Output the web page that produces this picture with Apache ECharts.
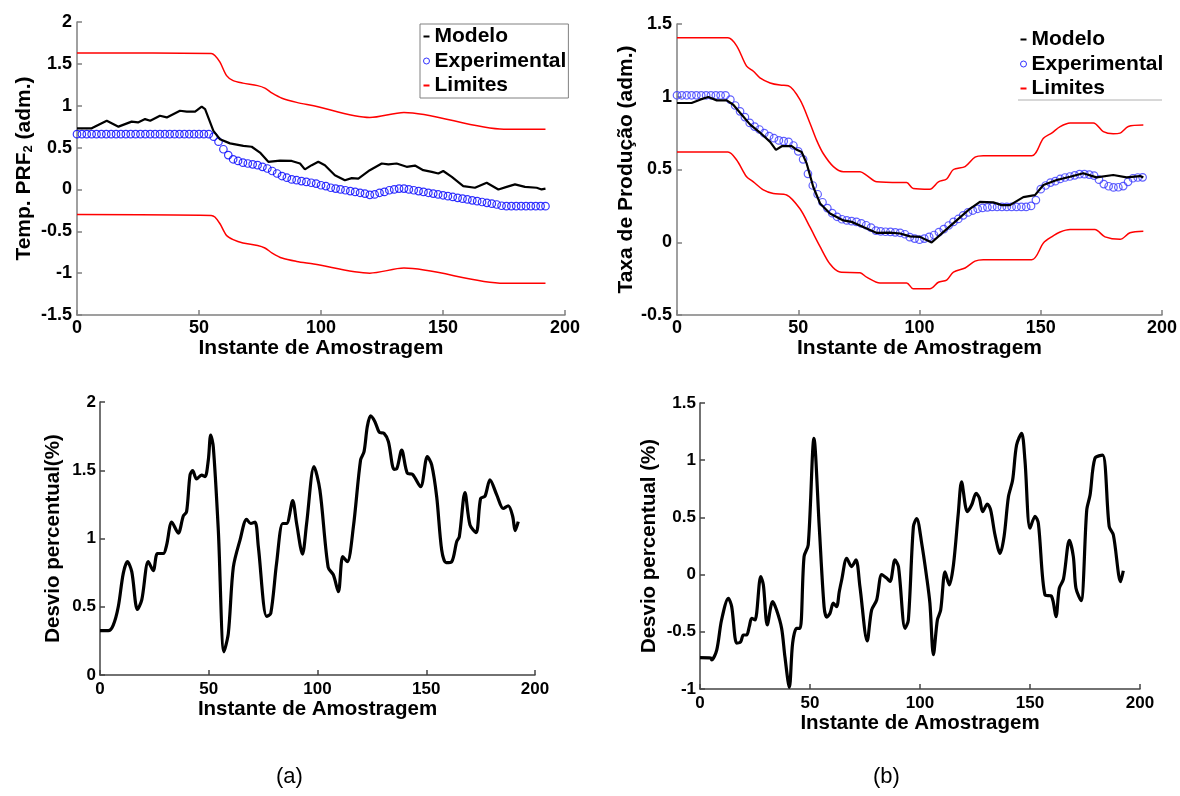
<!DOCTYPE html>
<html><head><meta charset="utf-8">
<script src="https://cdn.jsdelivr.net/npm/echarts@6/dist/echarts.min.js"></script>
<style>html,body{margin:0;padding:0;background:#fff}#c{width:1180px;height:796px}</style>
</head><body><div id="c"></div>
<script>
// ---------- DATA ----------
const xTickValues = [0, 50, 100, 150, 200];
const legendNames = ['Modelo', 'Experimental', 'Limites'];
const panelLabels = ['(a)', '(b)'];

// Panel (a) top: Temp. PRF2
const aModelo = [[0,0.73],[6,0.73],[12.2,0.82],[17,0.75],[22.4,0.81],[25,0.80],[27.9,0.84],[30,0.82],[34,0.88],[36.8,0.86],[42.2,0.94],[45,0.93],[48.4,0.93],[51.1,0.99],[52.5,0.96],[55.9,0.70],[58.6,0.60],[62.7,0.55],[68.2,0.52],[71.6,0.51],[75,0.44],[78.4,0.33],[83.2,0.345],[88,0.34],[91.4,0.31],[93.4,0.24],[96.2,0.29],[98.9,0.33],[101.6,0.29],[105.7,0.17],[109.8,0.11],[112.6,0.135],[115.3,0.13],[120,0.23],[124.9,0.31],[127.6,0.30],[131,0.31],[135.1,0.27],[138.5,0.285],[141.9,0.23],[145.4,0.21],[148.1,0.19],[150.1,0.22],[153.6,0.15],[158.3,0.04],[163.1,0.02],[167.9,0.08],[172.7,0.0],[176.1,0.03],[179.5,0.06],[183.6,0.03],[188.4,0.02],[190.4,0.0],[192,0.01]];
// experimental samples every 2 instants (0,2,...,192)
const aExperimental = [0.66,0.66,0.66,0.66,0.66,0.66,0.66,0.66,0.66,0.66,0.66,0.66,0.66,0.66,0.66,0.66,0.66,0.66,0.66,0.66,0.66,0.66,0.66,0.66,0.66,0.66,0.66,0.66,
  0.63,0.57,0.48,0.41,0.36,0.34,0.32,0.31,0.30,0.29,0.27,0.25,0.22,0.19,0.16,0.14,0.12,0.11,0.10,0.09,0.08,0.07,0.05,0.04,0.02,0.01,0.0,-0.01,-0.02,-0.03,-0.04,-0.05,-0.065,-0.06,-0.04,-0.03,-0.01,0.0,0.01,0.01,0.0,-0.01,-0.02,-0.03,-0.04,-0.05,-0.06,-0.07,-0.08,-0.09,-0.10,-0.11,-0.12,-0.13,-0.14,-0.15,-0.16,-0.17,-0.18,-0.195,
  -0.20,-0.20,-0.20,-0.20,-0.20,-0.20,-0.20,-0.20,-0.20];
const aUpper = [[0,1.63],[55,1.625],[56.5,1.6],[58.6,1.52],[61.3,1.36],[64,1.30],[68,1.27],[74,1.24],[77,1.21],[80,1.15],[84,1.09],[90,1.04],[97,1.0],[120,0.86],[134,0.92],[175,0.72],[192,0.72]];
const aLower = [[0,-0.30],[55,-0.31],[56.5,-0.33],[58.6,-0.41],[61.3,-0.55],[64,-0.60],[68,-0.64],[74,-0.67],[77,-0.70],[80,-0.76],[84,-0.82],[90,-0.86],[97,-0.89],[120,-1.0],[134,-0.94],[175,-1.12],[192,-1.12]];

// Panel (b) top: Taxa de Producao
const bModelo = [[0,0.957],[6,0.957],[9.5,0.98],[12.9,0.998],[16.4,0.975],[20.5,0.975],[23.2,0.945],[26,0.89],[30.1,0.81],[34.2,0.754],[38.4,0.69],[40.8,0.635],[43.2,0.66],[47.3,0.66],[49.4,0.635],[51.4,0.62],[53.5,0.54],[56.2,0.38],[59,0.267],[63.1,0.198],[68.6,0.15],[72,0.14],[76.8,0.105],[82.4,0.064],[87.8,0.066],[92,0.06],[96.1,0.04],[100.2,0.037],[105,-0.002],[109.8,0.07],[115.3,0.15],[120.8,0.23],[124.9,0.278],[130.4,0.274],[133.9,0.255],[137.3,0.255],[142.8,0.31],[147.6,0.324],[151.1,0.393],[156.6,0.428],[162.1,0.45],[167.5,0.474],[173,0.446],[179.9,0.462],[185.4,0.446],[190.9,0.455],[192.3,0.446]];
const bExperimental = [1.01,1.01,1.01,1.01,1.01,1.01,1.01,1.01,1.01,1.01,1.01,
  0.98,0.94,0.90,0.86,0.82,0.795,0.775,0.75,0.73,0.715,0.70,0.695,0.69,0.665,0.625,0.57,0.47,0.39,0.33,0.275,0.235,0.20,0.175,0.158,0.15,0.145,0.14,0.13,0.117,0.10,0.08,0.075,0.072,0.071,0.068,0.065,0.055,0.035,0.025,0.018,0.025,0.037,0.05,0.07,0.09,0.115,0.14,0.16,0.185,0.205,0.218,0.23,0.236,0.24,0.243,
  0.243,0.243,0.243,0.243,0.243,0.243,0.243,
  0.25,0.29,0.365,0.39,0.41,0.42,0.435,0.445,0.452,0.46,0.468,0.468,0.465,0.458,0.43,0.40,0.385,0.377,0.378,0.386,0.415,0.44,0.445,0.446];
const bUpper = [[0,1.405],[21,1.405],[24.6,1.35],[28.7,1.21],[31.5,1.175],[34.2,1.13],[38.4,1.095],[42.5,1.08],[45.9,1.076],[50.7,0.98],[54.8,0.82],[57.6,0.70],[60.3,0.61],[64.5,0.52],[68.6,0.485],[75.5,0.485],[78.2,0.46],[82.4,0.415],[92,0.41],[94.7,0.41],[97.4,0.37],[104.3,0.365],[107.8,0.415],[111.2,0.435],[114,0.50],[118.8,0.52],[122.9,0.585],[126.3,0.595],[146.3,0.595],[151.1,0.715],[154.5,0.75],[158,0.795],[162.1,0.82],[171.7,0.82],[175.8,0.76],[179.9,0.745],[182.7,0.75],[186.1,0.795],[192.3,0.805]];
const bLower = [[0,0.62],[21,0.62],[24.6,0.565],[28.7,0.45],[31.5,0.415],[35.6,0.36],[39.7,0.335],[45.2,0.325],[50.7,0.23],[54.8,0.105],[59,-0.03],[63.1,-0.15],[67.2,-0.205],[75.5,-0.21],[78.2,-0.24],[83.7,-0.28],[94.7,-0.28],[97.4,-0.32],[104.3,-0.32],[107.8,-0.275],[111.2,-0.26],[114,-0.205],[118.8,-0.177],[122.9,-0.13],[126.3,-0.12],[146.3,-0.12],[151.1,-0.005],[154.5,0.037],[158,0.07],[162.1,0.087],[172.3,0.087],[176.5,0.037],[182.7,0.02],[186.8,0.065],[192.3,0.076]];

// Bottom: Desvio percentual
const aDesvio = [[0,0.325],[3.8,0.325],[6.1,0.366],[8.4,0.50],[10.7,0.745],[12.6,0.83],[14.6,0.757],[17.2,0.48],[19.2,0.55],[22.2,0.83],[24.5,0.765],[26.4,0.89],[29.1,0.89],[30.6,0.95],[33,1.12],[36,1.04],[38.3,1.165],[39.8,1.196],[41.4,1.465],[42.6,1.497],[44.4,1.436],[46.7,1.465],[48.3,1.453],[49.8,1.575],[50.9,1.758],[52.1,1.67],[54.4,1.06],[57,0.17],[59,0.305],[61.3,0.79],[64.4,0.99],[67.4,1.14],[69.3,1.11],[71.3,1.12],[72.8,0.94],[76.6,0.43],[78.5,0.45],[81.2,0.82],[84,1.11],[85.8,1.11],[88.6,1.277],[90.4,1.11],[93.1,0.886],[95,1.11],[98.4,1.526],[101.1,1.355],[104.9,0.79],[107.3,0.733],[109.6,0.61],[111.6,0.867],[113.7,0.83],[116.5,1.086],[119.8,1.575],[121.4,1.636],[122.9,1.82],[124.4,1.898],[126.4,1.856],[128.4,1.778],[130.6,1.77],[132.6,1.71],[135.2,1.507],[136.4,1.51],[138.7,1.648],[141.3,1.478],[143.7,1.47],[147.4,1.38],[150.5,1.6],[152.5,1.54],[154.8,1.306],[157.1,0.916],[159.1,0.823],[161.7,0.83],[164,0.977],[165.2,1.013],[167.8,1.336],[170.1,1.1],[172.9,1.043],[175,1.294],[177,1.31],[179.3,1.43],[182.4,1.32],[185.4,1.22],[187.7,1.24],[189.7,1.165],[190.9,1.057],[192.3,1.123]];
const bDesvio = [[0,-0.726],[5,-0.73],[5.3,-0.746],[7.6,-0.66],[9.8,-0.397],[12.9,-0.207],[14.4,-0.28],[16.7,-0.60],[18.5,-0.587],[19.7,-0.528],[21.2,-0.528],[22.4,-0.455],[23.5,-0.382],[25,-0.397],[27.6,-0.018],[28.8,-0.09],[30.6,-0.44],[33,-0.237],[34.8,-0.31],[37.1,-0.47],[38.6,-0.718],[40.6,-0.985],[42.1,-0.60],[43.9,-0.47],[45.5,-0.47],[47.3,0.157],[49.2,0.26],[51.8,1.19],[54.2,0.42],[56.4,-0.28],[57.6,-0.373],[59.1,-0.338],[60.6,-0.25],[62.1,-0.28],[63.3,-0.15],[64.4,-0.047],[66.7,0.142],[68.9,0.07],[70.9,0.128],[72.7,-0.106],[76,-0.58],[78,-0.31],[80.3,-0.222],[82.6,0.0],[84.8,-0.03],[86.4,-0.06],[88.6,0.128],[90.2,0.07],[93.2,-0.47],[94.7,-0.397],[97,0.42],[98.5,0.49],[100.8,0.27],[103,-0.018],[104.5,-0.25],[106.1,-0.70],[107.9,-0.397],[109.4,-0.31],[111.4,0.025],[113.3,-0.09],[115.2,0.084],[117.4,0.536],[118.9,0.81],[121.5,0.55],[123.5,0.61],[125.5,0.71],[127,0.67],[128.5,0.55],[130.6,0.617],[132.1,0.565],[134.1,0.346],[136.4,0.186],[138.2,0.33],[140.2,0.68],[142.1,0.826],[143.9,1.133],[146.2,1.235],[147.7,1.0],[150,0.405],[152.3,0.51],[153.8,0.448],[156.8,-0.178],[159.8,-0.19],[161.8,-0.368],[163.3,-0.12],[165.2,-0.04],[167.9,0.30],[169.7,0.157],[170.9,-0.12],[173.2,-0.228],[175.8,0.565],[177.3,0.695],[179.5,1.016],[183,1.045],[186,0.42],[187.9,0.346],[191.2,-0.062],[192.4,0.034]];

// ---------- CHART ----------
const FF = '"Liberation Sans", Arial, sans-serif';
const SAMPLE_STEP = 2;
function samples(vals) { return vals.map((v, i) => [i * SAMPLE_STEP, v]); }

function xAxisCfg(gi, o) {
  return {
    type: 'value', gridIndex: gi, min: xTickValues[0], max: xTickValues[xTickValues.length - 1], interval: 50,
    name: 'Instante de Amostragem', nameLocation: 'middle', nameGap: o.nameGap,
    nameTextStyle: { fontFamily: FF, fontSize: o.nameSize, fontWeight: 'bold', color: '#000' },
    axisLine: { onZero: false, lineStyle: { color: o.axisColor, width: 1.5 } },
    axisTick: { inside: true, length: 5, lineStyle: { color: o.axisColor, width: 1.5 } },
    axisLabel: { fontFamily: FF, fontSize: o.labelSize, fontWeight: 'bold', color: '#000', margin: o.margin },
    splitLine: { show: false }
  };
}
function yAxisCfg(gi, o) {
  return {
    type: 'value', gridIndex: gi, min: o.min, max: o.max, interval: 0.5,
    name: o.name, nameLocation: 'middle', nameGap: o.nameGap, nameRotate: 90,
    nameTextStyle: { fontFamily: FF, fontSize: o.nameSize, fontWeight: 'bold', color: '#000',
      rich: { sub: { fontFamily: FF, fontSize: 13, fontWeight: 'bold', color: '#000', verticalAlign: 'bottom', padding: [9, 0, 0, 0] } } },
    axisLine: { onZero: false, lineStyle: { color: o.axisColor, width: 1.5 } },
    axisTick: { inside: true, length: 5, lineStyle: { color: o.axisColor, width: 1.5 } },
    axisLabel: { fontFamily: FF, fontSize: o.labelSize, fontWeight: 'bold', color: '#000', margin: o.margin },
    splitLine: { show: false }
  };
}

const topX = { nameGap: 17, nameSize: 21, axisColor: '#808080', labelSize: 18, margin: 4 };
const botX = { nameGap: 18, nameSize: 20.5, axisColor: '#444', labelSize: 17, margin: 6 };

function modeloS(ax, data) {
  return { type: 'line', name: 'Modelo', xAxisIndex: ax, yAxisIndex: ax, data, symbol: 'none', lineStyle: { color: '#000', width: 2.2 }, itemStyle: { color: '#000' }, z: 4 };
}
function expS(ax, vals, col) {
  return { type: 'scatter', name: 'Experimental', xAxisIndex: ax, yAxisIndex: ax, data: samples(vals), symbol: 'circle', symbolSize: 7.5,
    itemStyle: { color: 'rgba(255,255,255,0)', borderColor: col, borderWidth: 1.2 }, z: 3 };
}
function limS(ax, data) {
  return { type: 'line', name: 'Limites', xAxisIndex: ax, yAxisIndex: ax, data, symbol: 'none', smooth: 0.3, lineStyle: { color: '#ff0000', width: 1.5 }, itemStyle: { color: '#ff0000' }, z: 2 };
}
function devS(ax, name, data) {
  return { type: 'line', name, xAxisIndex: ax, yAxisIndex: ax, data, symbol: 'none', smooth: 0.3, lineStyle: { color: '#000', width: 3.2 }, itemStyle: { color: '#000' } };
}
const DASH = 'path://M0,0M0,2L6,2L6,4L0,4ZM6,6';
function legendCfg(o) {
  return Object.assign({
    orient: 'vertical',
    data: [
      { name: legendNames[0], icon: DASH, itemStyle: { color: '#000' } },
      { name: legendNames[1], icon: 'circle', itemStyle: { color: 'rgba(255,255,255,0)', borderColor: '#0000ff', borderWidth: 1 } },
      { name: legendNames[2], icon: DASH, itemStyle: { color: '#ff0000' } }
    ],
    itemWidth: 6, itemHeight: 6, itemGap: 3.5,
    textStyle: { fontFamily: FF, fontSize: 21, fontWeight: 'bold', color: '#000' },
    selectedMode: false
  }, o);
}

const chart = echarts.init(document.getElementById('c'), null, { renderer: 'canvas' });
chart.setOption({
  animation: false,
  backgroundColor: '#fff',
  grid: [
    { left: 77, top: 22, width: 488, height: 293, outerBoundsMode: 'none', containLabel: false },
    { left: 677, top: 24, width: 485, height: 291, outerBoundsMode: 'none', containLabel: false },
    { left: 100, top: 402, width: 435, height: 273, outerBoundsMode: 'none', containLabel: false },
    { left: 700, top: 403, width: 440, height: 286, outerBoundsMode: 'none', containLabel: false }
  ],
  xAxis: [xAxisCfg(0, topX), xAxisCfg(1, topX), xAxisCfg(2, botX), xAxisCfg(3, botX)],
  yAxis: [
    yAxisCfg(0, Object.assign({}, topX, { min: -1.5, max: 2, name: 'Temp. PRF{sub|2} (adm.)', nameGap: 42, margin: 5 })),
    yAxisCfg(1, Object.assign({}, topX, { min: -0.5, max: 1.5, name: 'Taxa de Produção (adm.)', nameGap: 36, margin: 5 })),
    yAxisCfg(2, Object.assign({}, botX, { min: 0, max: 2, name: 'Desvio percentual(%)', nameGap: 36, margin: 4 })),
    yAxisCfg(3, Object.assign({}, botX, { min: -1, max: 1.5, name: 'Desvio percentual (%)', nameGap: 40, margin: 4 }))
  ],
  legend: [
    legendCfg({ left: 420, top: 24, padding: [2, 2, 2, 3], borderColor: '#808080', borderWidth: 1, backgroundColor: '#fff' }),
    legendCfg({ left: 1017, top: 27, padding: [2, 2, 2, 3] })
  ],
  graphic: [
    { type: 'line', shape: { x1: 1018, y1: 100, x2: 1162, y2: 100 }, style: { stroke: '#b0b0b0', lineWidth: 1 } },
    { type: 'text', left: 276, top: 766, style: { text: panelLabels[0], font: '22px ' + FF, fill: '#000' } },
    { type: 'text', left: 873, top: 766, style: { text: panelLabels[1], font: '22px ' + FF, fill: '#000' } }
  ],
  series: [
    expS(0, aExperimental, '#0000ff'), modeloS(0, aModelo), limS(0, aUpper), limS(0, aLower),
    expS(1, bExperimental, '#3a3aff'), modeloS(1, bModelo), limS(1, bUpper), limS(1, bLower),
    devS(2, 'Desvio (a)', aDesvio), devS(3, 'Desvio (b)', bDesvio)
  ]
});
</script>
</body></html>
